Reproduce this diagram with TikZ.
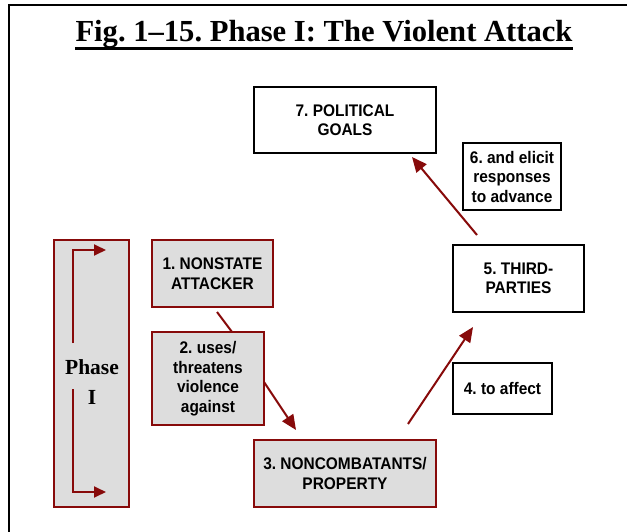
\documentclass[tikz,border=0pt]{standalone}
\usepackage{fontspec}
\setmainfont{Liberation Serif}
\newfontfamily\boxfont[FakeStretch=0.92]{Liberation Sans}
\usetikzlibrary{arrows.meta}
\definecolor{dred}{RGB}{135,10,10}
\definecolor{lgray}{RGB}{221,221,221}
\frenchspacing
\tikzset{
  redbox/.style={draw=dred, fill=lgray, line width=2pt, inner sep=0pt, align=center,
    font=\boxfont\bfseries\fontsize{16.8}{19.5}\selectfont},
  blackbox/.style={draw=black, fill=white, line width=2pt, inner sep=0pt, align=center,
    font=\boxfont\bfseries\fontsize{16.8}{19.5}\selectfont},
  conn/.style={draw=dred, line width=2pt},
  arr/.style={conn, -{Triangle[length=15pt,width=13pt]}},
  phasearr/.style={draw=dred, line width=1.8pt, -{Triangle[length=12pt,width=11pt]}}
}
\begin{document}
\begin{tikzpicture}[x=1pt,y=-1pt]
\useasboundingbox (0,0) rectangle (627,532);
% frame
\draw[line width=2pt] (9,532) -- (9,5) -- (627,5);
% title
\node[anchor=base, font=\bfseries\fontsize{30.6}{34}\selectfont, inner sep=0pt] (title) at (324,42) {Fig. 1–15. Phase I: The Violent Attack};
\draw[line width=2.6pt] ([yshift=-6.5pt]title.base west) -- ([yshift=-6.5pt]title.base east);
% phase box
\node[redbox, minimum width=75pt, minimum height=267pt] (phase) at (91.5,373.5) {};
\node[font=\bfseries\fontsize{21.5}{30}\selectfont, align=center, inner sep=0pt] (phasetext) at (92,382) {Phase\\I};
% boxes
\node[redbox, minimum width=121pt, minimum height=67pt] (b1) at (212.5,273.5) {1. NONSTATE\\ATTACKER};
\node[redbox, minimum width=112pt, minimum height=93pt] (b2) at (208,378.5) {2. uses/\\threatens\\violence\\against};
\node[redbox, minimum width=182pt, minimum height=67pt] (b3) at (345,473.5) {3. NONCOMBATANTS/\\PROPERTY};
\node[blackbox, minimum width=99pt, minimum height=51pt] (b4) at (502.5,388.5) {4. to affect};
\node[blackbox, minimum width=131pt, minimum height=67pt] (b5) at (518.5,278.5) {5. THIRD-\\PARTIES};
\node[blackbox, minimum width=98pt, minimum height=67pt] (b6) at (512,176.5) {6. and elicit\\responses\\to advance};
\node[blackbox, minimum width=182pt, minimum height=66pt] (b7) at (345,120) {7. POLITICAL\\GOALS};
% connector end points
\coordinate (c1a) at (217,312);
\coordinate (c1b) at (232,332);
\coordinate (c2a) at (264,382);
\coordinate (c2b) at (296,430);
\coordinate (c3a) at (408,424);
\coordinate (c3b) at (473,327);
\coordinate (c5a) at (477,235);
\coordinate (c5b) at (412,157);
\draw[conn] (c1a) -- (c1b);
\draw[arr] (c2a) -- (c2b);
\draw[arr] (c3a) -- (c3b);
\draw[arr] (c5a) -- (c5b);
% phase arrows
\coordinate (p1) at (73,343);
\coordinate (p2) at (73,250);
\coordinate (p3) at (106,250);
\coordinate (p4) at (73,389);
\coordinate (p5) at (73,492);
\coordinate (p6) at (106,492);
\draw[phasearr] (p1) -- (p2) -- (p3);
\draw[phasearr] (p4) -- (p5) -- (p6);
\end{tikzpicture}
\end{document}
